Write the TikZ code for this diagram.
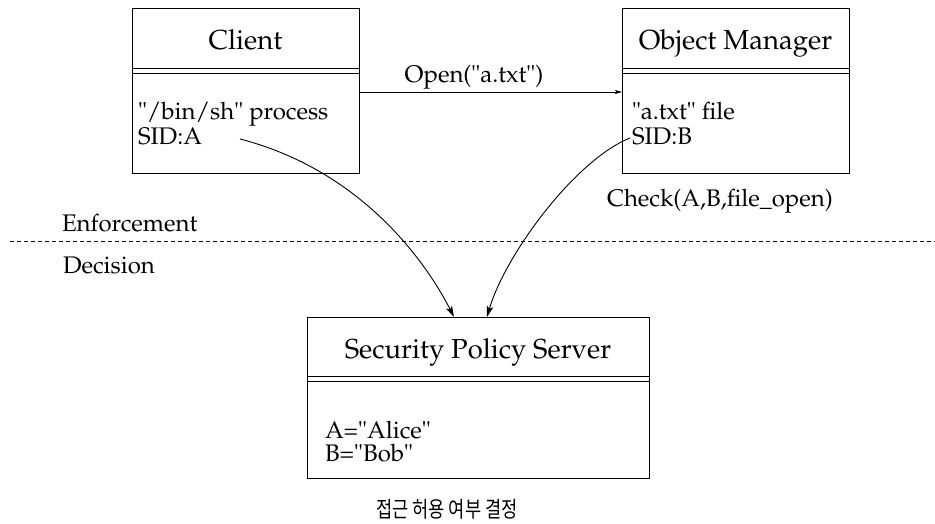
\documentclass[tikz,border=0pt]{standalone}
\usepackage{fontspec}
\usepackage[T1,TU]{fontenc}
\usetikzlibrary{arrows.meta}
\newfontfamily\hangul{Noto Sans CJK KR}
\newcommand\palafont{\fontencoding{T1}\fontfamily{ppl}\selectfont\fontsize{24}{25}\selectfont}
\newcommand\palatitle{\fontencoding{T1}\fontfamily{ppl}\selectfont\fontsize{27.5}{28}\selectfont}

\begin{document}
\begin{tikzpicture}[x=1pt,y=-1pt,
  txt/.style={inner sep=0pt, outer sep=0pt, font=\palafont},
  ttl/.style={inner sep=0pt, outer sep=0pt, font=\palatitle, anchor=base},
  umlbox/.style={draw, line width=0.9pt, rectangle, inner sep=0pt, outer sep=0pt, anchor=north west},
  divider/.style={line width=0.9pt},
  flow/.style={line width=0.9pt, -{Stealth[length=11pt,width=6.5pt,inset=2.5pt]}},
  msg/.style={line width=0.8pt, -{Stealth[length=7pt,width=4pt,inset=1.5pt]}},
  boundary/.style={line width=0.7pt, dash pattern=on 4pt off 3pt}]

\useasboundingbox (0,0) rectangle (935,524);

% Client
\node[umlbox, minimum width=227pt, minimum height=165pt] (client) at (132,8) {};
\draw[divider] ([yshift=-60pt]client.north west) -- ([yshift=-60pt]client.north east);
\draw[divider] ([yshift=-65pt]client.north west) -- ([yshift=-65pt]client.north east);
\node[ttl] (client-title) at ([yshift=-42pt]client.north) {Client};
\node[txt, anchor=base west] (client-proc) at (138,120) {"/bin/sh" process};
\node[txt, anchor=base west] (client-sid) at (138,145) {SID:A};

% Object Manager
\node[umlbox, minimum width=227pt, minimum height=165pt] (om) at (622,8) {};
\draw[divider] ([yshift=-60pt]om.north west) -- ([yshift=-60pt]om.north east);
\draw[divider] ([yshift=-65pt]om.north west) -- ([yshift=-65pt]om.north east);
\node[ttl] (om-title) at ([yshift=-42pt]om.north) {Object Manager};
\node[txt, anchor=base west] (om-file) at (632,120) {"a.txt" file};
\node[txt, anchor=base west] (om-sid) at (632,145) {SID:B};

% Security Policy Server
\node[umlbox, minimum width=342pt, minimum height=161pt] (sps) at (307,317) {};
\draw[divider] ([yshift=-59pt]sps.north west) -- ([yshift=-59pt]sps.north east);
\draw[divider] ([yshift=-64pt]sps.north west) -- ([yshift=-64pt]sps.north east);
\node[ttl] (sps-title) at ([yshift=-41pt]sps.north) {Security Policy Server};
\node[txt, anchor=base west] (sps-a) at (325,438) {A="Alice"};
\node[txt, anchor=base west] (sps-b) at (325,461) {B="Bob"};

% Open request
\draw[msg] (client.east |- 0,92) -- (om.west |- 0,92);
\node[txt, anchor=base] (open-lbl) at (474,83) {Open("a.txt")};

% Check label and boundary
\node[txt, anchor=base west] (check-lbl) at (607,207) {Check(A,B,file\_open)};
\coordinate (bl) at (10,241);
\coordinate (br) at (935,241);
\draw[boundary] (bl) -- (br);
\node[txt, anchor=base west] (enf) at (62,232) {Enforcement};
\node[txt, anchor=base west] (dec) at (63,273) {Decision};

% SID queries to the server
\coordinate (a-src) at (240,139);
\coordinate (b-src) at (630,138);
\draw[flow] (a-src) .. controls (360,170) and (425,260) .. ([xshift=-24pt]sps.north);
\draw[flow] (b-src) .. controls (575,160) and (505,255) .. ([xshift=9pt]sps.north);

% Caption
\node[inner sep=0pt, anchor=base, font=\hangul\fontsize{22}{22}\selectfont] (caption) at (447,517) {\scalebox{0.8}[1]{접근 허용 여부 결정}};
\end{tikzpicture}
\end{document}
